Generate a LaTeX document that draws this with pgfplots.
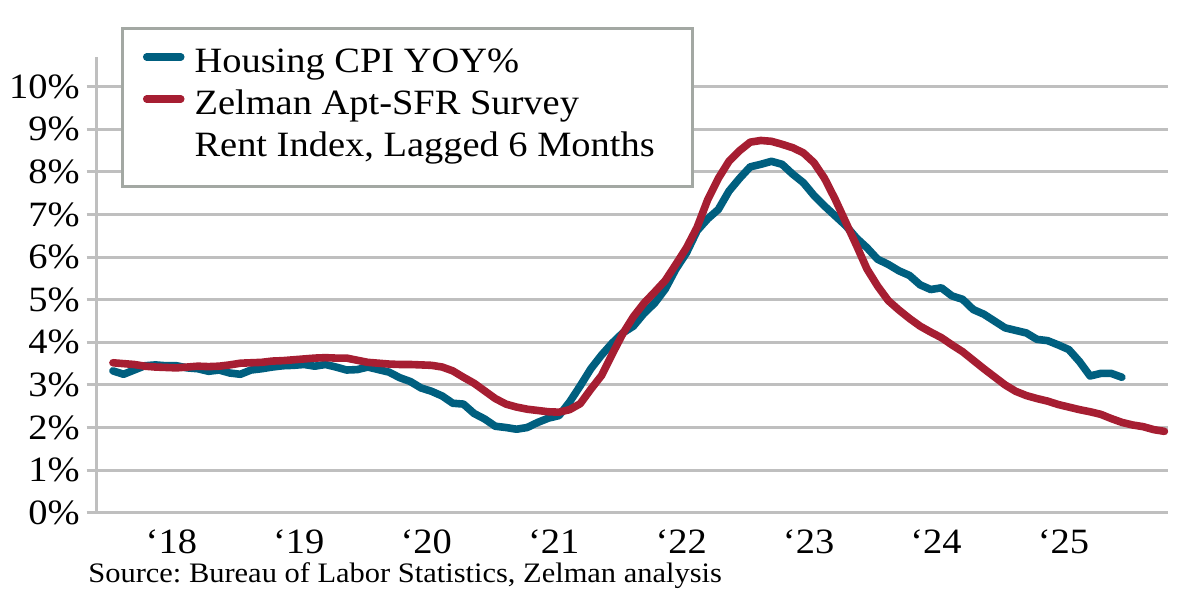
\documentclass[border=0pt]{standalone}
\usepackage{fontspec}
\setmainfont[FakeStretch=1.08]{Liberation Serif}
\usepackage{pgfplots}
\pgfplotsset{compat=1.18}
\frenchspacing

\definecolor{cpiblue}{HTML}{005F7F}
\definecolor{zelred}{HTML}{A61E32}
\definecolor{gridgray}{HTML}{BFBFBF}
\definecolor{boxgray}{HTML}{A3A8A3}

% x = month index, 0 = Jan 2018
\begin{document}
\begin{tikzpicture}
\useasboundingbox (-48.35pt,-50.65pt) rectangle (551.65pt,256.35pt);
\begin{axis}[
    at={(0,0)}, anchor=south west,
    scale only axis, width=535.65pt, height=227.85pt,
    xmin=-1.53, xmax=99.34, ymin=0, ymax=10.7,
    axis lines=left,
    axis line style={draw=gridgray, line width=1.5pt, -},
    ytick={0,1,...,10},
    ymajorgrids,
    grid style={draw=gridgray, line width=1.5pt},
    tick align=outside,
    major tick length=5pt,
    ytick style={draw=gridgray, line width=1.5pt},
    xtick style={draw=none},
    xtick={5.5,17.5,29.5,41.5,53.5,65.5,77.5,89.5},
    xticklabels={{\textquoteleft 18},{\textquoteleft 19},{\textquoteleft 20},{\textquoteleft 21},{\textquoteleft 22},{\textquoteleft 23},{\textquoteleft 24},{\textquoteleft 25}},
    yticklabel={\pgfmathprintnumber{\tick}\%},
    /pgf/number format/assume math mode=true,
    tick label style={font=\fontsize{17.8}{20}\selectfont},
    legend style={at={(0.0231,1.0648)}, anchor=north west,
        draw=boxgray, line width=1.5pt, fill=white,
        inner xsep=10pt, inner ysep=8pt,
        row sep=0pt, column sep=5pt,
        font=\fontsize{17.8}{20}\selectfont,
        nodes={inner sep=0pt, text height=14pt, text depth=7pt}},
    legend cell align=left,
    legend image code/.code={\draw[#1, line cap=round] (0pt,4.5pt) -- (17pt,4.5pt);},
]
\addplot[cpiblue, line width=3.8pt, line join=round, line cap=round] coordinates {
(0,3.33)(1,3.25)(2,3.35)(3,3.45)(4,3.47)(5,3.45)(6,3.45)(7,3.40)(8,3.38)(9,3.32)(10,3.35)(11,3.28)
(12,3.25)(13,3.35)(14,3.38)(15,3.42)(16,3.45)(17,3.46)(18,3.48)(19,3.44)(20,3.48)(21,3.42)(22,3.35)(23,3.36)
(24,3.42)(25,3.36)(26,3.30)(27,3.17)(28,3.08)(29,2.93)(30,2.85)(31,2.74)(32,2.57)(33,2.55)(34,2.33)(35,2.20)
(36,2.03)(37,2.00)(38,1.96)(39,2.00)(40,2.12)(41,2.22)(42,2.28)(43,2.60)(44,2.98)(45,3.38)(46,3.70)(47,3.98)
(48,4.22)(49,4.38)(50,4.68)(51,4.92)(52,5.25)(53,5.72)(54,6.10)(55,6.62)(56,6.90)(57,7.12)(58,7.55)(59,7.85)
(60,8.12)(61,8.18)(62,8.25)(63,8.18)(64,7.95)(65,7.75)(66,7.45)(67,7.20)(68,6.97)(69,6.74)(70,6.45)(71,6.22)
(72,5.95)(73,5.83)(74,5.68)(75,5.57)(76,5.35)(77,5.24)(78,5.28)(79,5.09)(80,5.01)(81,4.77)(82,4.66)(83,4.50)
(84,4.34)(85,4.28)(86,4.22)(87,4.07)(88,4.04)(89,3.94)(90,3.83)(91,3.55)(92,3.21)(93,3.27)(94,3.27)(95,3.18)
};
\addlegendentry{Housing CPI YOY\%}
\addplot[zelred, line width=3.8pt, line join=round, line cap=round] coordinates {
(0,3.52)(1,3.50)(2,3.48)(3,3.44)(4,3.42)(5,3.41)(6,3.40)(7,3.42)(8,3.44)(9,3.43)(10,3.44)(11,3.47)
(12,3.51)(13,3.52)(14,3.53)(15,3.56)(16,3.57)(17,3.59)(18,3.61)(19,3.63)(20,3.64)(21,3.63)(22,3.63)(23,3.58)
(24,3.53)(25,3.51)(26,3.49)(27,3.48)(28,3.48)(29,3.47)(30,3.46)(31,3.42)(32,3.33)(33,3.18)(34,3.04)(35,2.86)
(36,2.68)(37,2.55)(38,2.48)(39,2.43)(40,2.40)(41,2.37)(42,2.36)(43,2.42)(44,2.56)(45,2.90)(46,3.22)(47,3.72)
(48,4.20)(49,4.60)(50,4.92)(51,5.18)(52,5.45)(53,5.83)(54,6.22)(55,6.70)(56,7.35)(57,7.85)(58,8.25)(59,8.50)
(60,8.70)(61,8.74)(62,8.72)(63,8.65)(64,8.57)(65,8.45)(66,8.22)(67,7.85)(68,7.36)(69,6.82)(70,6.28)(71,5.72)
(72,5.32)(73,4.98)(74,4.76)(75,4.56)(76,4.38)(77,4.24)(78,4.11)(79,3.94)(80,3.78)(81,3.58)(82,3.38)(83,3.19)
(84,3.00)(85,2.85)(86,2.75)(87,2.68)(88,2.62)(89,2.54)(90,2.48)(91,2.42)(92,2.37)(93,2.31)(94,2.21)(95,2.12)
(96,2.06)(97,2.02)(98,1.95)(99,1.91)
};
\addlegendentry{Zelman Apt-SFR Survey}
\addlegendimage{empty legend}
\addlegendentry{Rent Index, Lagged 6 Months\hspace*{9pt}}
\end{axis}
\node[anchor=base west, inner sep=0pt, font=\fontsize{14.1}{17}\selectfont] at (-4.35pt,-35.15pt)
    {Source: Bureau of Labor Statistics, Zelman analysis};
\end{tikzpicture}
\end{document}
